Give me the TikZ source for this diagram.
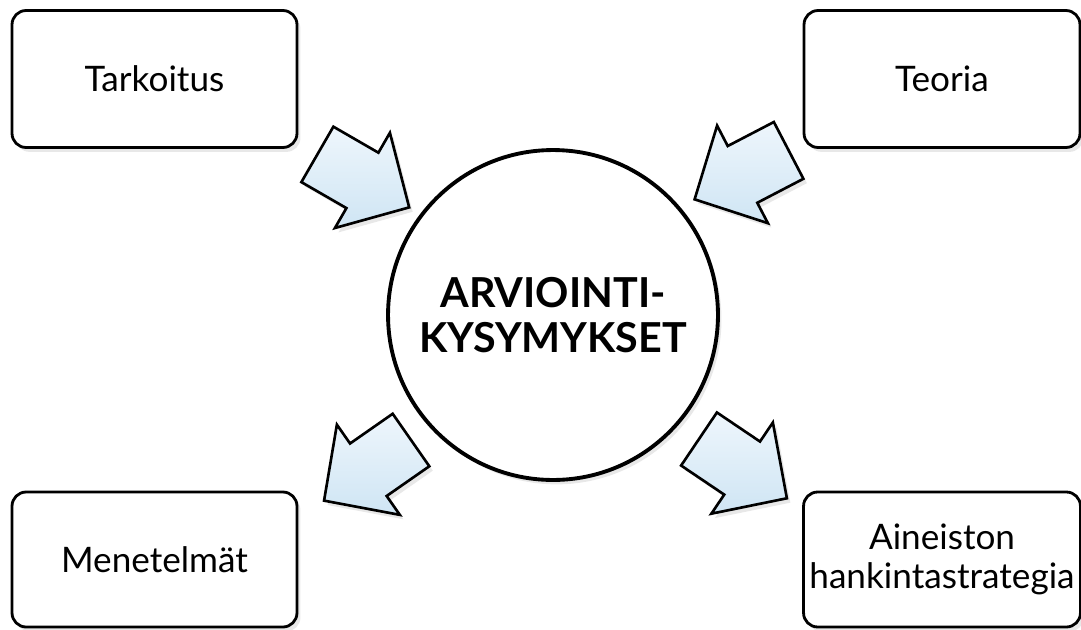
\documentclass[tikz,border=0pt]{standalone}
\usepackage{fontspec}
\setmainfont{Lato}
\usetikzlibrary{positioning,shadows}
\definecolor{arrowtop}{HTML}{EEF6FC}
\definecolor{arrowbot}{HTML}{CFE5F4}

\begin{document}
\begin{tikzpicture}[x=0.02cm, y=-0.02cm,
  font=\fontsize{20}{22}\selectfont,
  soft/.style={drop shadow={shadow xshift=2pt, shadow yshift=-2.5pt, opacity=.18}},
  box/.style={draw=black, line width=1.6pt, rounded corners=8pt, fill=white, align=center,
    minimum height=2.74cm, soft},
  hub/.style={circle, draw=black, line width=2.2pt, fill=white, align=center, minimum size=6.6cm,
    inner sep=0pt, soft, font=\fontsize{23.5}{26}\selectfont\bfseries},
  blockarrow/.pic={\draw[line width=1.5pt, line join=miter, top color=arrowtop, bottom color=arrowbot, soft]
    (0,-32) -- (52,-32) -- (52,-55) -- (106,0) -- (52,55) -- (52,32) -- (0,32) -- cycle;}]
\useasboundingbox (0,0) rectangle (1081,629);
\node[hub] (hub) at (553,315) {ARVIOINTI-\\KYSYMYKSET};
\node[box, minimum width=5.7cm] (tarkoitus) at (154.5,79) {Tarkoitus};
\node[box, minimum width=5.52cm] (teoria) at (942,79) {Teoria};
\node[box, minimum width=5.7cm, minimum height=2.7cm] (menetelmat) at (154.5,559.5) {Menetelmät};
\node[box, minimum width=5.52cm, minimum height=2.7cm] (aineisto) at (942,559.5) {Aineiston\\hankintastrategia};
% block arrows
\pic[rotate=-30] at ([shift={(19,5.5)}]tarkoitus.south east) {blockarrow};
\pic[rotate=207.5] at ([shift={(-14,1.5)}]teoria.south west) {blockarrow};
\pic[rotate=214.9] at ([shift={(-142,125)}]hub.center) {blockarrow};
\pic[rotate=-34] at ([shift={(146,124)}]hub.center) {blockarrow};
\end{tikzpicture}
\end{document}
